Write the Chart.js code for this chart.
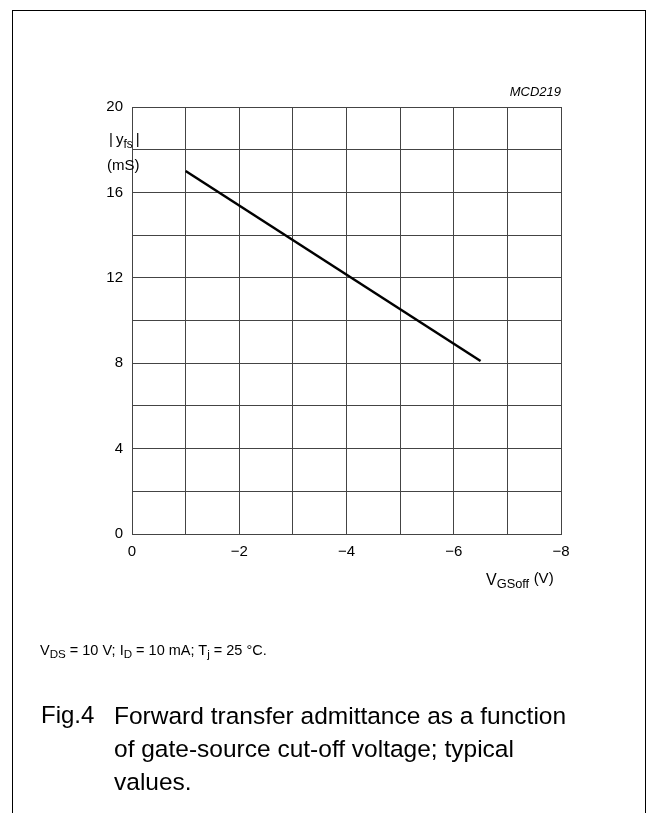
<!DOCTYPE html>
<html>
<head>
<meta charset="utf-8">
<script src="https://cdn.jsdelivr.net/npm/chart.js@4.4.0/dist/chart.umd.min.js"></script>
<style>
  body { margin: 0; background: #fff; font-family: "Liberation Sans", Arial, sans-serif; color: #000; }
  #wrap { position: relative; width: 657px; height: 813px; overflow: hidden; }
  #frame { position: absolute; left: 12px; top: 10px; width: 632px; height: 820px; border: 1.5px solid #000; }
  canvas { position: absolute; left: 0; top: 0; }
  .lbl { position: absolute; white-space: nowrap; line-height: 1; }
  sub { font-size: 0.8em; vertical-align: -0.3em; line-height: 0; }
  #code { right: 96px; top: 85px; font-size: 13px; font-style: italic; }
  #ytitle { left: 109px; top: 131px; font-size: 15px; }
  #yunit { left: 107px; top: 157px; font-size: 15px; }
  #xtitle { left: 486px; top: 570px; font-size: 16px; }
  #note { left: 40px; top: 643px; font-size: 14.5px; }
  #fig { left: 41px; top: 703px; font-size: 24px; }
  #cap { left: 114px; top: 699px; font-size: 24.5px; line-height: 33px; }
</style>
</head>
<body>
<div id="wrap">
  <div id="frame"></div>
  <canvas id="chart" width="657" height="813"></canvas>
  <div class="lbl" id="code">MCD219</div>
  <div class="lbl" id="ytitle">|&thinsp;y<sub>fs</sub>&thinsp;|</div>
  <div class="lbl" id="yunit">(mS)</div>
  <div class="lbl" id="xtitle">V<sub>GSoff</sub> <span style="font-size:15px;vertical-align:0.1em">(V)</span></div>
  <div class="lbl" id="note">V<sub>DS</sub> = 10 V; I<sub>D</sub> = 10 mA; T<sub>j</sub> = 25 °C.</div>
  <div class="lbl" id="fig">Fig.4</div>
  <div class="lbl" id="cap">Forward transfer admittance as a function<br>of gate-source cut-off voltage; typical<br>values.</div>
</div>
<script>
// V_GSoff (V) and |y_fs| (mS)
const vgsoff = [-1, -6.5];
const yfs = [17, 8.1];

const xTickValues = [0, -2, -4, -6, -8];
const xTickLabels = ["0", "\u22122", "\u22124", "\u22126", "\u22128"];
const yTickValues = [0, 4, 8, 12, 16, 20];
const yTickLabels = ["0", "4", "8", "12", "16", "20"];

const gridColor = "#444";
const tickFont = { family: "'Liberation Sans', Arial, sans-serif", size: 15 };

const ctx = document.getElementById("chart").getContext("2d");

new Chart(ctx, {
  type: "scatter",
  data: {
    datasets: [
      {
        data: vgsoff.map((x, i) => ({ x: x, y: yfs[i] })),
        showLine: true,
        borderColor: "#000",
        borderWidth: 2.5,
        pointRadius: 0,
        fill: false,
      },
    ],
  },
  options: {
    responsive: false,
    animation: false,
    layout: { padding: { top: 107, right: 96, left: 0, bottom: 0 } },
    plugins: {
      legend: { display: false },
      tooltip: { enabled: false },
      title: { display: false },
    },
    scales: {
      x: {
        type: "linear",
        min: -8,
        max: 0,
        reverse: true,
        afterFit: function (scale) {
          scale.height = 279;
        },
        ticks: {
          stepSize: 1,
          padding: 9,
          color: "#000",
          font: tickFont,
          maxRotation: 0,
          autoSkip: false,
          callback: function (value) {
            const i = xTickValues.indexOf(value);
            return i >= 0 ? xTickLabels[i] : "";
          },
        },
        grid: { color: gridColor, lineWidth: 1, drawTicks: false },
        border: { display: true, color: gridColor, width: 1 },
      },
      y: {
        type: "linear",
        min: 0,
        max: 20,
        afterFit: function (scale) {
          scale.width = 132;
        },
        ticks: {
          stepSize: 2,
          padding: 9,
          color: "#000",
          font: tickFont,
          autoSkip: false,
          callback: function (value) {
            const i = yTickValues.indexOf(value);
            return i >= 0 ? yTickLabels[i] : "";
          },
        },
        grid: { color: gridColor, lineWidth: 1, drawTicks: false },
        border: { display: true, color: gridColor, width: 1 },
      },
    },
  },
});
</script>
</body>
</html>
